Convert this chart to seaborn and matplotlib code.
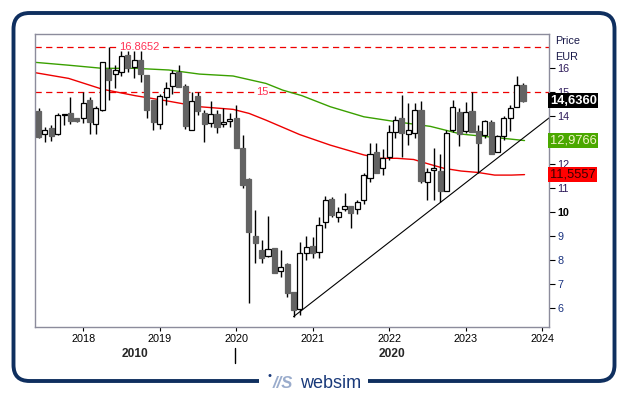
import numpy as np
import pandas as pd
import matplotlib.pyplot as plt
import seaborn as sns
from matplotlib.patches import FancyBboxPatch
from matplotlib.lines import Line2D

# ---- data (monthly candles) ----
first_month = '2017-06-01'
opens = [14.21, 13.24, 13.49, 13.24, 14.04, 14.12, 13.92, 13.90, 14.65, 13.65,
         14.24, 15.96, 15.74, 15.85, 16.54, 16.03, 16.33, 15.71, 14.69, 13.69,
         14.81, 15.26, 15.85, 15.25, 13.42, 14.83, 14.14, 13.72, 14.08, 13.67,
         13.78, 13.90, 12.69, 11.37, 9.00, 8.42, 8.18, 8.49, 7.54, 7.83,
         6.68, 5.94, 8.28, 8.58, 8.35, 9.60, 10.53, 9.81, 10.11, 10.25,
         10.11, 10.50, 11.40, 12.51, 11.82, 12.31, 13.35, 13.94, 13.25, 13.28,
         14.25, 11.26, 11.75, 11.72, 10.89, 13.42, 14.18, 13.39, 14.22, 13.39,
         13.21, 13.76, 12.51, 13.17, 13.94, 14.39, 15.29]
highs = [14.35, 13.56, 13.62, 14.12, 14.10, 14.79, 13.94, 15.01, 14.81, 14.43,
         16.26, 16.8652, 16.12, 16.71, 16.71, 16.71, 16.71, 15.71, 14.69, 14.94,
         15.43, 15.94, 16.12, 15.33, 15.01, 15.01, 14.25, 14.64, 14.25, 14.35,
         14.11, 14.46, 13.21, 11.40, 10.08, 8.83, 9.83, 8.49, 8.42, 7.89,
         6.68, 8.76, 9.00, 8.97, 9.81, 10.67, 10.64, 10.22, 10.81, 10.25,
         10.50, 11.61, 12.86, 12.89, 12.61, 13.62, 14.00, 14.87, 14.53, 14.53,
         14.64, 11.82, 12.69, 12.44, 13.42, 14.69, 14.32, 14.60, 15.01, 13.62,
         13.83, 13.83, 13.21, 14.00, 14.46, 15.67, 15.36]
lows = [13.07, 12.93, 12.96, 13.21, 13.62, 13.65, 13.77, 13.71, 13.26, 13.24,
        14.22, 14.65, 15.15, 15.67, 15.85, 15.60, 15.43, 13.90, 13.42, 13.46,
        14.46, 14.94, 15.22, 13.46, 13.42, 14.04, 12.93, 13.56, 13.28, 13.56,
        13.56, 12.65, 10.99, 6.19, 7.86, 7.89, 8.14, 7.44, 7.31, 6.44,
        5.64, 5.71, 8.00, 8.07, 8.07, 9.32, 9.81, 9.60, 10.06, 9.32,
        9.92, 10.33, 11.26, 11.64, 11.54, 12.19, 13.07, 12.31, 12.79, 13.07,
        11.19, 10.50, 10.50, 10.43, 10.89, 13.35, 12.75, 13.28, 13.35, 11.64,
        13.07, 12.42, 12.51, 13.00, 13.39, 14.39, 14.60]
closes = [13.14, 13.42, 13.17, 14.04, 14.07, 13.81, 13.79, 14.53, 13.74, 14.32,
          16.24, 15.50, 15.94, 16.51, 16.01, 16.33, 15.74, 14.25, 13.76, 14.83,
          15.19, 15.78, 15.22, 13.58, 14.62, 14.22, 13.69, 14.08, 13.56, 13.76,
          13.88, 12.65, 11.12, 9.18, 8.69, 8.07, 8.44, 7.47, 7.72, 6.61,
          5.92, 8.31, 8.53, 8.31, 9.46, 10.50, 9.87, 10.01, 10.25, 9.97,
          10.43, 11.54, 12.40, 11.64, 12.24, 13.35, 13.83, 13.31, 13.42, 14.25,
          11.31, 11.68, 11.83, 10.89, 13.28, 14.36, 13.25, 14.18, 13.35, 12.89,
          13.79, 12.42, 13.17, 13.90, 14.32, 15.29, 14.636]

# moving averages (x in decimal years)
green_x = [2017.37, 2017.81, 2018.25, 2018.68, 2019.12, 2019.52, 2019.96, 2020.39,
           2020.61, 2020.86, 2021.23, 2021.67, 2022.10, 2022.54, 2022.94, 2023.38, 2023.77]
green_y = [16.24, 16.12, 15.99, 15.99, 15.92, 15.75, 15.67, 15.36,
           15.08, 14.85, 14.39, 13.97, 13.76, 13.57, 13.25, 13.11, 12.98]
red_x = [2017.37, 2017.81, 2018.25, 2018.68, 2019.10, 2019.52, 2019.96, 2020.17,
         2020.39, 2020.83, 2021.23, 2021.67, 2021.89, 2022.10, 2022.32, 2022.52,
         2022.72, 2022.94, 2023.16, 2023.38, 2023.60, 2023.77]
red_y = [15.81, 15.57, 15.12, 14.85, 14.63, 14.39, 14.28, 14.11,
         13.83, 13.23, 12.79, 12.38, 12.24, 12.24, 12.19, 12.00,
         11.82, 11.71, 11.65, 11.54, 11.54, 11.56]

# support trend line
trend_x = [2020.75, 2024.09]
trend_y = [5.64, 13.92]

levels = [16.8652, 15]
level_text = ['16.8652', '15']

last_price, ma_green, ma_red = 14.6360, 12.9766, 11.5557

year_ticks = [2018, 2019, 2020, 2021, 2022, 2023, 2024]
price_ticks = [6, 7, 8, 9, 10, 11, 12, 14, 15, 16]

# ---- build frame ----
months = pd.date_range(first_month, periods=len(opens), freq='MS')
df = pd.DataFrame({'x': months.year + (months.month - 1) / 12,
                   'open': opens, 'high': highs, 'low': lows, 'close': closes})
df['up'] = df['close'] >= df['open']

sns.set_theme(style="white")
plt.rcParams['font.family'] = ['Liberation Sans', 'DejaVu Sans']

fig = plt.figure(figsize=(6.29, 3.95), dpi=100)
ax = fig.add_axes([0.0556, 0.1722, 0.8172, 0.7417])

# outer rounded frame (no fill, so the chart stays visible)
frame = FancyBboxPatch((0.135, 0.14), 6.01, 3.68,
                       boxstyle="round,pad=0,rounding_size=0.16",
                       transform=fig.dpi_scale_trans, fc='none',
                       ec='#0f2f5f', lw=2.8, zorder=0)
fig.patches.append(frame)

# level lines
for lv, txt, xf in zip(levels, level_text, [0.203, 0.442]):
    ax.axhline(lv, color='#ee0000', ls=(0, (5, 3.5)), lw=0.9, zorder=1)
    ax.text(xf, lv, txt, transform=ax.get_yaxis_transform(), ha='center',
            va='center', color='#ff3355', fontsize=8,
            bbox=dict(fc='white', ec='none', pad=0.6), zorder=1.5)

# moving averages + trend
sns.lineplot(x=green_x, y=green_y, color='#3aa000', lw=1, ax=ax, zorder=2)
sns.lineplot(x=red_x, y=red_y, color='#ee0000', lw=1, ax=ax, zorder=2)
sns.lineplot(x=trend_x, y=trend_y, color='black', lw=0.8, ax=ax, zorder=2)

# candles
ax.vlines(df['x'], df['low'], df['high'], color='black', lw=1, zorder=3)
body_lo = df[['open', 'close']].min(axis=1)
body_h = (df['close'] - df['open']).abs().clip(lower=0.04)
ax.bar(df['x'], body_h, bottom=body_lo, width=0.066,
       color=np.where(df['up'], 'white', '#636363'),
       edgecolor=np.where(df['up'], 'black', '#636363'), lw=0.9, zorder=4)

ax.set_xlim(2017.37, 2024.09)
ax.set_ylim(5.21, 17.42)

# axes styling
for s in ax.spines.values():
    s.set_color('#8c8c9c')
    s.set_linewidth(1)
ax.yaxis.tick_right()
ax.set_yticks(price_ticks)
ax.set_yticklabels([str(t) for t in price_ticks])
for lab, t in zip(ax.get_yticklabels(), price_ticks):
    lab.set_va('center_baseline')
    if t == 10:
        lab.set_fontweight('bold')
        lab.set_fontsize(9)
        lab.set_color('black')
    elif t >= 11:
        lab.set_color('#2d1a5a')
    else:
        lab.set_color('#1a3380')
ax.tick_params(axis='y', right=True, length=4, width=0.8, pad=2,
               labelsize=7.8, color='black')
ax.set_xticks(year_ticks)
ax.set_xticklabels([str(y) for y in year_ticks])
ax.tick_params(axis='x', bottom=True, length=3, width=0.8, pad=2,
               labelsize=7.8, color='black', labelcolor='black')
ax.set_xlabel('')
ax.set_ylabel('')

# right side price boxes
ytr = ax.get_yaxis_transform()
box_kw = dict(transform=ytr, ha='left', va='center', fontsize=9.3, zorder=6, clip_on=False)
ax.text(1.002, last_price, '14,6360', color='white', fontweight='bold',
        bbox=dict(fc='black', ec='none', boxstyle='square,pad=0.12'), **box_kw)
ax.text(1.002, ma_green, '12,9766', color='#f4f4c8',
        bbox=dict(fc='#4aa800', ec='none', boxstyle='square,pad=0.12'), **box_kw)
ax.text(1.002, ma_red, '11,5557', color='#3a0000',
        bbox=dict(fc='#ff0000', ec='none', boxstyle='square,pad=0.12'), **box_kw)

fig.text(555 / 629, 1 - 41 / 395, 'Price', fontsize=7.8, color='#1a1a4a', va='center')
fig.text(555 / 629, 1 - 56.5 / 395, 'EUR', fontsize=7.8, color='#1a1a4a', va='center')

# decade row under the years
fig.text(135 / 629, 0.105, '2010', fontsize=8.6, fontweight='bold', ha='center', va='center')
fig.text(391.7 / 629, 0.105, '2020', fontsize=8.6, fontweight='bold', ha='center', va='center')
fig.add_artist(Line2D([235 / 629, 235 / 629], [0.082, 0.12], color='black', lw=1,
                      transform=fig.transFigure))

# websim logo sitting on the bottom border
fig.add_artist(plt.Rectangle((259 / 629, 0.02), 109 / 629, 0.035, fc='white', ec='none',
                             transform=fig.transFigure, zorder=4))
fig.text(283 / 629, 1 - 383 / 395, '//S', fontsize=12, fontstyle='italic', fontweight='bold',
         color='#9aaccc', ha='center', va='center', zorder=5)
fig.text(269 / 629, 1 - 376 / 395, '•', fontsize=8, color='#1a3a7a', ha='center',
         va='center', zorder=5)
fig.text(331 / 629, 1 - 383 / 395, 'websim', fontsize=13, color='#1a3a7a', ha='center',
         va='center', zorder=5)

plt.savefig('out.png', dpi=100)
